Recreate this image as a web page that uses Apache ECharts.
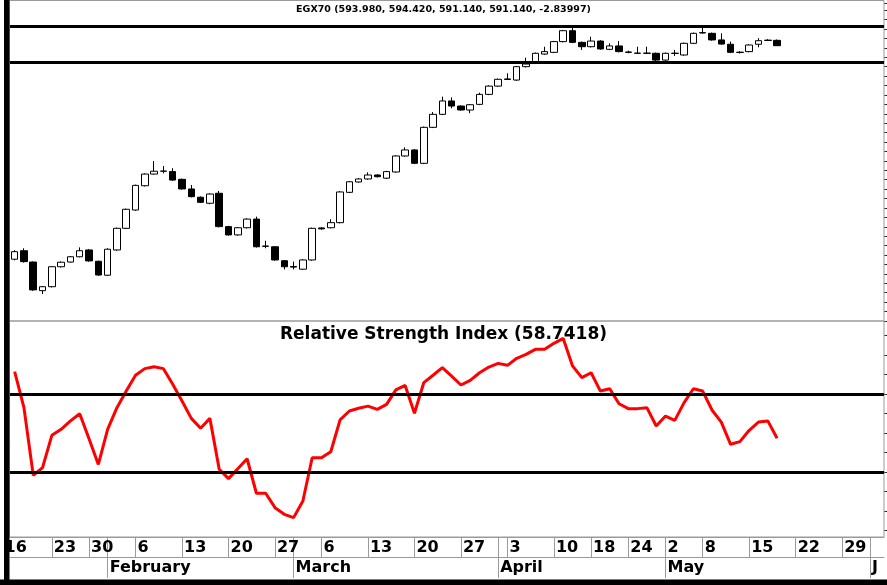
<!DOCTYPE html>
<html>
<head>
<meta charset="utf-8">
<title>EGX70</title>
<script src="https://cdn.jsdelivr.net/npm/echarts@6/dist/echarts.min.js"></script>
<style>
html, body { margin: 0; padding: 0; background: #fff; }
#chart { width: 887px; height: 585px; }
</style>
</head>
<body>
<div id="chart"></div>
<script>
// trading days on the axis (data stops at May 18, the rest is empty room)
var janDays = [17, 18, 19, 20, 23, 24, 26, 27, 30, 31];
var febDays = [1, 2, 3, 6, 7, 8, 9, 10, 13, 14, 15, 16, 17, 20, 21, 22, 23, 24, 27, 28];
var marDays = [1, 2, 3, 6, 7, 8, 9, 10, 13, 14, 15, 16, 17, 20, 21, 22, 23, 24, 27, 28, 29, 30, 31];
var aprDays = [3, 4, 5, 6, 7, 10, 11, 12, 13, 18, 19, 20, 21, 24, 26, 27, 28];
var mayDays = [2, 3, 4, 5, 8, 9, 10, 11, 12, 15, 16, 17, 18, 19, 22, 23, 24, 25, 26, 29, 30, 31];
var junDays = [1, 2];

// tick labels of the two axis rows
var dayTickIdx  = [0, 4, 8, 13, 18, 23, 28, 33, 38, 43, 48, 53, 58, 62, 66, 70, 74, 79, 84, 89];
var dayTickText = ['16', '23', '30', '6', '13', '20', '27', '6', '13', '20', '27', '3', '10', '18', '24', '2', '8', '15', '22', '29'];
var monthTickIdx  = [10, 30, 52, 70, 92];
var monthTickText = ['February', 'March', 'April', 'May', 'J'];

// EGX70 daily candles
var opens = [477.8, 482.3, 476.3, 461.1, 463.2, 473.8, 476.3, 479.1, 482.7, 476.7,
  469.3, 482.7, 494.2, 503.9, 516.8, 523.0, 524.5, 524.3, 520.2, 515.1,
  510.7, 507.5, 512.8, 495.1, 490.7, 494.5, 499.1, 484.6, 484.4, 477.0,
  473.9, 472.5, 477.4, 494.4, 494.5, 497.2, 513.3, 518.8, 520.4, 522.5,
  520.8, 524.1, 532.6, 535.8, 528.7, 547.8, 554.7, 561.8, 559.1, 557.0,
  560.0, 565.3, 569.7, 573.2, 572.9, 580.0, 581.8, 586.7, 587.6, 593.3,
  599.1, 592.9, 590.6, 593.6, 589.2, 591.0, 587.8, 587.1, 587.2, 587.1,
  583.5, 587.0, 586.2, 592.4, 597.9, 597.7, 594.2, 591.9, 587.5, 588.0,
  591.9, 593.9, 593.98];
var highs = [482.6, 483.6, 476.6, 463.6, 474.2, 476.6, 479.5, 484.1, 483.2, 477.0,
  483.6, 494.6, 504.7, 517.4, 523.4, 529.9, 527.3, 526.1, 520.6, 517.2,
  511.1, 512.8, 514.0, 495.5, 494.9, 499.5, 500.4, 487.6, 484.8, 477.4,
  476.5, 477.8, 494.6, 494.8, 499.0, 513.9, 519.3, 520.8, 523.9, 522.9,
  524.7, 533.0, 537.2, 536.2, 548.2, 555.9, 564.1, 563.7, 559.5, 560.2,
  566.2, 570.1, 573.7, 576.5, 580.4, 584.8, 587.5, 590.6, 593.7, 599.5,
  601.2, 593.3, 595.9, 594.0, 592.4, 593.6, 588.5, 590.6, 590.6, 587.5,
  587.5, 588.9, 592.8, 598.1, 600.9, 598.1, 597.7, 593.3, 588.2, 591.9,
  595.1, 594.6, 594.42];
var lows = [477.2, 476.0, 461.0, 459.3, 462.8, 473.4, 476.0, 478.8, 476.5, 469.0,
  468.9, 482.3, 493.9, 503.5, 516.4, 522.7, 523.4, 519.4, 514.7, 510.6,
  507.6, 507.0, 494.7, 490.3, 490.3, 494.1, 484.0, 483.6, 477.0, 472.4,
  472.4, 472.1, 477.0, 493.5, 494.2, 496.8, 512.9, 518.4, 520.0, 521.2,
  520.4, 523.7, 532.2, 528.3, 528.3, 547.4, 554.3, 557.9, 556.6, 555.3,
  559.6, 564.9, 569.3, 572.9, 572.5, 579.6, 581.4, 586.3, 587.2, 592.9,
  592.5, 588.9, 590.2, 589.0, 588.8, 587.6, 587.1, 586.9, 586.9, 582.3,
  583.1, 585.7, 585.8, 592.0, 597.5, 593.8, 591.6, 587.2, 587.0, 587.6,
  590.3, 593.6, 591.14];
var closes = [481.8, 476.5, 461.5, 463.2, 473.8, 476.2, 479.1, 482.3, 476.9, 469.4,
  483.1, 494.2, 504.3, 517.0, 523.0, 524.5, 524.6, 519.8, 515.1, 511.0,
  508.0, 512.4, 495.1, 490.7, 494.5, 499.1, 484.4, 484.8, 477.4, 473.8,
  473.6, 477.4, 494.2, 493.9, 497.2, 513.5, 518.9, 520.4, 522.5, 521.6,
  524.3, 532.6, 535.8, 528.7, 547.8, 554.7, 561.8, 559.1, 557.0, 559.8,
  565.3, 569.7, 573.3, 573.5, 580.0, 581.4, 587.1, 588.0, 593.3, 599.1,
  592.9, 590.6, 593.6, 589.4, 591.0, 588.0, 587.6, 587.2, 587.1, 583.5,
  587.1, 587.2, 592.4, 597.7, 598.1, 594.2, 592.0, 587.6, 587.7, 591.5,
  593.8, 594.1, 591.14];

// Relative Strength Index
var rsiValues = [81.5, 63.0, 28.3, 32.2, 48.8, 51.9, 56.2, 59.9, 47.1, 33.9,
  51.9, 63.0, 71.5, 79.6, 83.0, 84.0, 83.0, 75.0, 66.4, 57.5,
  52.4, 57.5, 31.4, 26.6, 31.7, 36.8, 19.1, 19.1, 11.7, 8.3,
  6.6, 15.1, 37.3, 37.3, 40.4, 56.7, 61.3, 62.7, 63.8, 62.1,
  64.7, 72.1, 74.4, 60.1, 75.8, 79.6, 83.5, 79.2, 74.6, 77.0,
  80.9, 83.8, 85.7, 84.7, 88.3, 90.3, 92.9, 92.9, 96.0, 98.5,
  84.4, 78.4, 80.9, 71.5, 72.7, 65.0, 62.5, 62.5, 63.0, 53.6,
  58.7, 56.5, 65.6, 72.7, 71.5, 61.8, 55.6, 44.2, 45.6, 51.4,
  55.6, 56.2, 47.3];

var priceLevels = [601.7, 582.2];
var rsiLevels = [70, 30];

var tradeDates = [];
[['Jan', janDays], ['Feb', febDays], ['Mar', marDays], ['Apr', aprDays], ['May', mayDays], ['Jun', junDays]]
  .forEach(function (m) {
    m[1].forEach(function (d) { tradeDates.push(m[0] + ' ' + d); });
  });

var candleData = opens.map(function (o, i) {
  return [o, closes[i], lows[i], highs[i]];
});

var dayLabel = {}, monthLabel = {};
dayTickIdx.forEach(function (idx, k) { dayLabel[idx] = dayTickText[k]; });
monthTickIdx.forEach(function (idx, k) { monthLabel[idx] = monthTickText[k]; });

var FONT = 'DejaVu Sans';
var GRID = '#9a9a9a';

var chart = echarts.init(document.getElementById('chart'));

var option = {
  animation: false,
  backgroundColor: '#fff',
  title: [
    {
      text: 'EGX70 (593.980, 594.420, 591.140, 591.140, -2.83997)',
      left: 'center', top: 5, padding: 0,
      textStyle: { fontFamily: FONT, fontSize: 9.5, fontWeight: 'bold', color: '#000' }
    },
    {
      text: 'Relative Strength Index (58.7418)',
      left: 'center', top: 326, padding: 0,
      textStyle: { fontFamily: FONT, fontSize: 17, fontWeight: 'bold', color: '#000' }
    }
  ],
  grid: [
    { left: 10, right: 3, top: 3, height: 318 },
    { left: 10, right: 3, top: 335.5, height: 195 }
  ],
  xAxis: [
    { type: 'category', gridIndex: 0, data: tradeDates, show: false },
    {
      type: 'category', gridIndex: 1, data: tradeDates, position: 'bottom', offset: 6.5,
      axisLine: { show: true, onZero: false, lineStyle: { color: GRID, width: 1 } },
      axisTick: {
        show: true, alignWithLabel: true, length: 20, lineStyle: { color: GRID, width: 1 },
        interval: function (i) { return (i !== 0 && dayLabel[i] !== undefined) || monthLabel[i] !== undefined; }
      },
      axisLabel: {
        interval: function (i) { return dayLabel[i] !== undefined; },
        formatter: function (v, i) { return dayLabel[i] || ''; },
        align: 'left', alignMinLabel: 'center', padding: [0, 0, 0, 2], margin: 3,
        fontFamily: FONT, fontSize: 16, fontWeight: 'bold', color: '#000'
      },
      splitLine: { show: false }
    },
    {
      type: 'category', gridIndex: 1, data: tradeDates, position: 'bottom', offset: 26.5,
      axisLine: { show: true, onZero: false, lineStyle: { color: GRID, width: 1 } },
      axisTick: {
        show: true, alignWithLabel: true, length: 21, lineStyle: { color: GRID, width: 1 },
        interval: function (i) { return monthLabel[i] !== undefined; }
      },
      axisLabel: {
        interval: function (i) { return monthLabel[i] !== undefined; },
        formatter: function (v, i) { return monthLabel[i] || ''; },
        align: 'left', padding: [0, 0, 0, 2], margin: 3,
        fontFamily: FONT, fontSize: 16, fontWeight: 'bold', color: '#000'
      },
      splitLine: { show: false }
    }
  ],
  yAxis: [
    {
      type: 'value', gridIndex: 0, position: 'right', min: 445, max: 613.8, interval: 5,
      axisLine: { show: false },
      axisTick: { show: true, length: 3, lineStyle: { color: '#333' } },
      axisLabel: { show: false },
      splitLine: { show: false }
    },
    {
      type: 'value', gridIndex: 1, position: 'right', min: 0, max: 100, interval: 10,
      axisLine: { show: false },
      axisTick: { show: true, length: 3, lineStyle: { color: '#333' } },
      axisLabel: { show: false },
      splitLine: { show: false }
    }
  ],
  series: [
    {
      type: 'candlestick', xAxisIndex: 0, yAxisIndex: 0,
      data: candleData, barWidth: 7,
      itemStyle: {
        color: '#fff', color0: '#000',
        borderColor: '#000', borderColor0: '#000', borderColorDoji: '#000',
        borderWidth: 1
      },
      markLine: {
        silent: true, symbol: 'none', label: { show: false },
        lineStyle: { color: '#000', width: 3, type: 'solid' },
        data: priceLevels.map(function (v) { return { yAxis: v }; })
      }
    },
    {
      type: 'line', xAxisIndex: 1, yAxisIndex: 1,
      data: rsiValues, symbol: 'none',
      lineStyle: { color: '#ff0000', width: 3 },
      markLine: {
        silent: true, symbol: 'none', label: { show: false },
        lineStyle: { color: '#000', width: 3, type: 'solid' },
        data: rsiLevels.map(function (v) { return { yAxis: v }; })
      }
    }
  ],
  graphic: [
    { type: 'rect', z: 1, shape: { x: 9.5, y: 0.5, width: 874.5, height: 320.5 },
      style: { fill: null, stroke: GRID, lineWidth: 1 } },
    { type: 'rect', z: 1, shape: { x: 9.5, y: 321, width: 874.5, height: 216 },
      style: { fill: null, stroke: GRID, lineWidth: 1 } },
    { type: 'rect', z: 100, shape: { x: 4, y: 0, width: 5.5, height: 585 },
      style: { fill: '#000' } },
    { type: 'rect', z: 100, shape: { x: 0, y: 579.5, width: 887, height: 5.5 },
      style: { fill: '#000' } }
  ]
};

chart.setOption(option);
window.addEventListener('resize', function () { chart.resize(); });
</script>
</body>
</html>
